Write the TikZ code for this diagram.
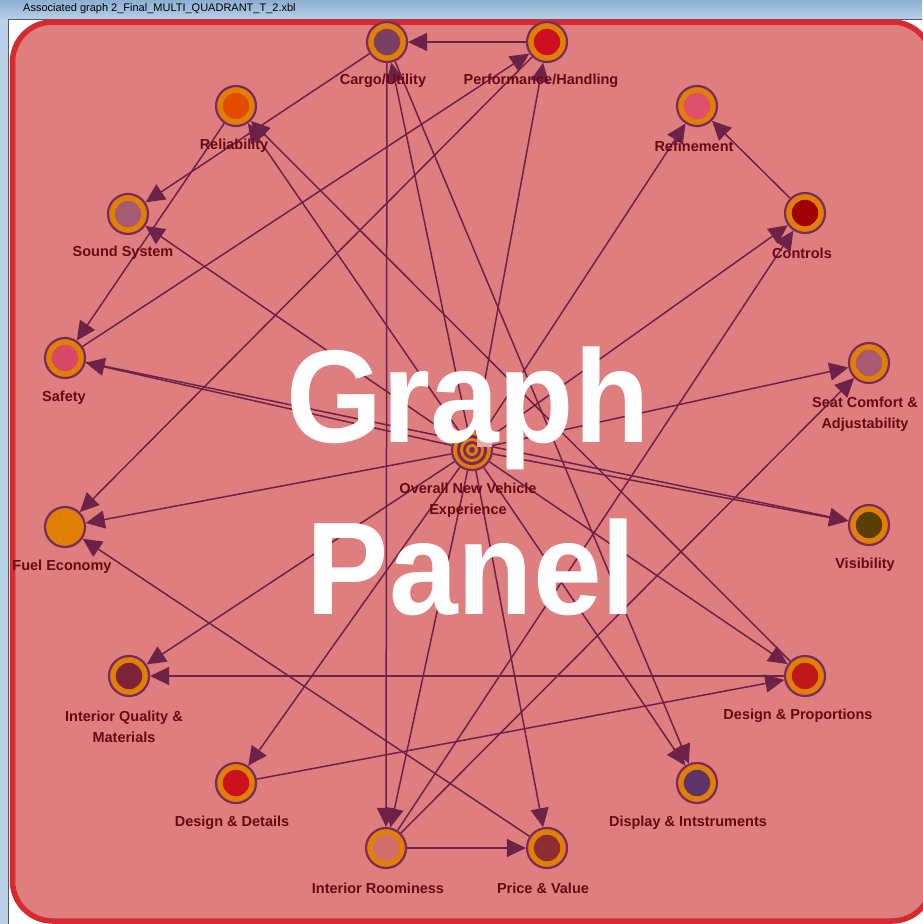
\documentclass[tikz,border=0pt]{standalone}
\usepackage{fontspec}
\setmainfont{Liberation Sans}
\usetikzlibrary{arrows.meta}
\pgfdeclarelayer{bg}
\pgfsetlayers{bg,main}
\definecolor{panelfill}{HTML}{DF7E7E}
\definecolor{panelborder}{HTML}{D42A30}
\definecolor{ringpurple}{HTML}{7A2A5E}
\definecolor{ringorange}{HTML}{E08000}
\definecolor{edgecol}{HTML}{6E2248}
\definecolor{labelcol}{HTML}{680A14}
\definecolor{titletop}{HTML}{8EAED0}
\definecolor{titlebot}{HTML}{B6D0EA}
\definecolor{sidestrip}{HTML}{B8D2EA}
\definecolor{artifact}{HTML}{E8ABAB}
\definecolor{cCargo}{HTML}{7B3F62}
\definecolor{cPerf}{HTML}{CC1020}
\definecolor{cRel}{HTML}{E04C00}
\definecolor{cRef}{HTML}{E0506A}
\definecolor{cSound}{HTML}{A85A72}
\definecolor{cCtrl}{HTML}{A00000}
\definecolor{cSafety}{HTML}{D84868}
\definecolor{cSeat}{HTML}{A85A72}
\definecolor{cVis}{HTML}{5A4000}
\definecolor{cIQ}{HTML}{7E2438}
\definecolor{cDP}{HTML}{C01818}
\definecolor{cDD}{HTML}{CC1020}
\definecolor{cDisp}{HTML}{5E3468}
\definecolor{cIR}{HTML}{D07068}
\definecolor{cPrice}{HTML}{8E2C34}
\begin{document}
\begin{tikzpicture}[x=1pt,y=-1pt,
  gnode/.style={circle, draw=ringpurple, line width=2.2pt, fill=ringorange,
    minimum size=40pt, inner sep=0pt,
    path picture={\fill[#1] (path picture bounding box.center) circle[radius=13.2pt];}},
  hubnode/.style={circle, draw=ringpurple, line width=2.2pt, fill=ringorange,
    minimum size=40pt, inner sep=0pt,
    path picture={
      \fill[ringpurple] (path picture bounding box.center) circle[radius=15pt];
      \fill[ringorange] (path picture bounding box.center) circle[radius=12pt];
      \fill[ringpurple] (path picture bounding box.center) circle[radius=9pt];
      \fill[ringorange] (path picture bounding box.center) circle[radius=6pt];
      \fill[ringpurple] (path picture bounding box.center) circle[radius=3pt];}},
  lbl/.style={text=labelcol, font=\fontsize{14.5}{21}\selectfont\bfseries, align=center, inner sep=0pt},
  conn/.style={draw=edgecol, line width=1.5pt, -{Triangle[length=19pt,width=18pt]}},
  wmark/.style={anchor=base, inner sep=0pt, text=white, xscale=0.935, font=\fontsize{132}{160}\selectfont\bfseries},
]
\useasboundingbox (0,0) rectangle (922,924);
\clip (0,0) rectangle (922,924);

% nodes
\node[gnode=cCargo] (cargo) at (387,42) {};
\node[gnode=cPerf] (perf) at (547,42) {};
\node[gnode=cRel] (rel) at (236,106) {};
\node[gnode=cRef] (ref) at (697,106) {};
\node[gnode=cSound] (sound) at (128,214) {};
\node[gnode=cCtrl] (ctrl) at (805,213) {};
\node[gnode=cSafety] (safety) at (65,358) {};
\node[gnode=cSeat] (seat) at (869,363) {};
\node[hubnode] (ov) at (472,450) {};
\node[gnode=ringorange] (fuel) at (65,527) {};
\node[gnode=cVis] (vis) at (869,525) {};
\node[gnode=cIQ] (iq) at (129,676) {};
\node[gnode=cDP] (dp) at (805,676) {};
\node[gnode=cDD] (dd) at (236,783) {};
\node[gnode=cDisp] (disp) at (697,783) {};
\node[gnode=cIR] (ir) at (386,848) {};
\node[gnode=cPrice] (price) at (547,848) {};

\begin{pgfonlayer}{bg}
% window chrome
\fill[white] (0,0) rectangle (922,924);
\shade[top color=titletop, bottom color=titlebot] (0,0) rectangle (922,19);
\fill[sidestrip] (0,19) rectangle (8,924);
\draw[gray!70!black, line width=1pt] (8.5,924) -- (8.5,19.5) -- (922,19.5);
\node[anchor=west, inner sep=0pt, font=\fontsize{11}{13}\selectfont, text=black] (title) at (23,9) {Associated graph 2\_Final\_MULTI\_QUADRANT\_T\_2.xbl};
% panel
\draw[line width=5.5pt, draw=panelborder, fill=panelfill, rounded corners=40pt] (12.5,22) rectangle (932,921);
% edges
\foreach \t in {cargo,perf,rel,ref,sound,ctrl,safety,seat,fuel,vis,iq,dp,dd,disp,ir,price}
  \draw[conn] (ov) -- (\t);
\draw[conn] (perf) -- (cargo);
\draw[conn] (cargo) -- (sound);
\draw[conn] (cargo) -- (ir);
\draw[conn] (cargo) -- (disp);
\draw[conn] (rel) -- (safety);
\draw[conn] (dp) -- (rel);
\draw[conn] (safety) -- (perf);
\draw[conn] (perf) -- (fuel);
\draw[conn] (ctrl) -- (ref);
\draw[conn] (ir) -- (ctrl);
\draw[conn] (ir) -- (seat);
\draw[conn] (ir) -- (price);
\draw[conn] (price) -- (fuel);
\draw[conn] (dd) -- (dp);
\draw[conn] (dp) -- (iq);
\draw[conn] (safety) -- (vis);
\end{pgfonlayer}

% small highlight box near the hub
\fill[artifact] (477,435) rectangle (492,447);

% labels
\node[lbl] (cargo-l) at (383,81) {Cargo/Utility};
\node[lbl] (perf-l) at (541,81) {Performance/Handling};
\node[lbl] (rel-l) at (234,146) {Reliability};
\node[lbl] (ref-l) at (694,146) {Refinement};
\node[lbl] (sound-l) at (123,253) {Sound System};
\node[lbl] (ctrl-l) at (802,253) {Controls};
\node[lbl] (safety-l) at (64,398) {Safety};
\node[lbl] (seat-l) at (865,414.5) {Seat Comfort \&\\Adjustability};
\node[lbl] (ov-l) at (468,500.5) {Overall New Vehicle\\Experience};
\node[lbl] (fuel-l) at (62,567) {Fuel Economy};
\node[lbl] (vis-l) at (865,565) {Visibility};
\node[lbl] (iq-l) at (124,726.5) {Interior Quality \&\\Materials};
\node[lbl] (dp-l) at (798,716) {Design \& Proportions};
\node[lbl] (dd-l) at (232,823) {Design \& Details};
\node[lbl] (disp-l) at (688,823) {Display \& Intstruments};
\node[lbl] (ir-l) at (378,888) {Interior Roominess};
\node[lbl] (price-l) at (543,888) {Price \& Value};

% watermark
\node[wmark] (wm1) at (468,442) {Graph};
\node[wmark] (wm2) at (471.5,614) {Panel};
\end{tikzpicture}
\end{document}
